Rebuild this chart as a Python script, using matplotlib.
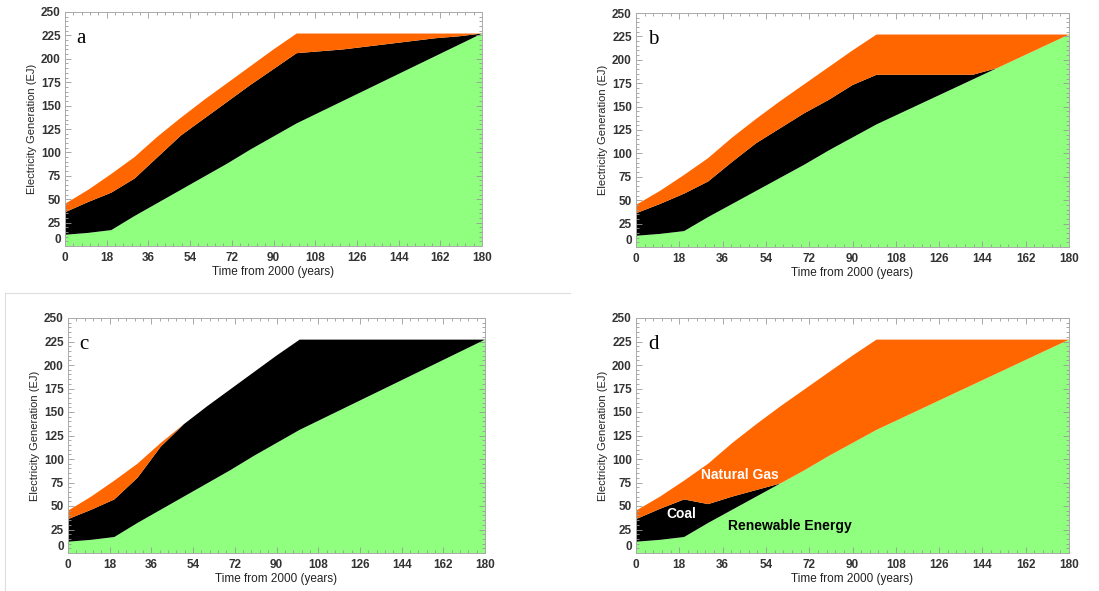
import matplotlib
matplotlib.use("Agg")
import matplotlib.pyplot as plt
from matplotlib.ticker import AutoMinorLocator
from matplotlib.lines import Line2D
import numpy as np

years = [0, 10, 20, 30, 40, 50, 60, 70, 80, 90, 100, 110, 120, 130, 140, 150, 160, 170, 180]
renewable = [12, 14, 17, 32, 46, 60, 74, 88, 103, 117, 131, 143, 155, 167, 179, 191, 203, 215, 227]

coal_a = [24, 33, 40, 40, 49, 58, 62, 66, 69, 72, 75, 65, 55, 46, 37, 28, 19, 9, 0]
gas_a = [9, 13, 20, 23, 22, 19, 20, 20, 20, 21, 21, 19, 17, 14, 11, 8, 5, 3, 0]

coal_b = [24, 32, 40, 38, 45, 51, 53, 55, 54, 56, 53, 41, 29, 17, 5, 0, 0, 0, 0]
gas_b = [9, 14, 20, 25, 26, 26, 29, 31, 35, 37, 43, 43, 43, 43, 43, 36, 24, 12, 0]

coal_c = [24, 32, 40, 48, 67, 77, 82, 86, 89, 93, 96, 84, 72, 60, 48, 36, 24, 12, 0]
gas_c = [9, 14, 20, 15, 4, 0, 0, 0, 0, 0, 0, 0, 0, 0, 0, 0, 0, 0, 0]

coal_d = [24, 33, 40, 20, 14, 7, 0, 0, 0, 0, 0, 0, 0, 0, 0, 0, 0, 0, 0]
gas_d = [9, 13, 20, 43, 57, 70, 82, 86, 89, 93, 96, 84, 72, 60, 48, 36, 24, 12, 0]

panel_letters = ["a", "b", "c", "d"]
xticks = [0, 18, 36, 54, 72, 90, 108, 126, 144, 162, 180]
yticks = [0, 25, 50, 75, 100, 125, 150, 175, 200, 225, 250]

GREEN = "#90FF80"
BLACK = "#000000"
ORANGE = "#FF6600"

plt.rcParams['font.family'] = ['Liberation Sans', 'DejaVu Sans']

fig = plt.figure(figsize=(10.99, 5.91), dpi=100)
W, H = 1099, 591
boxes = [(65, 482, 12, 246), (636, 1069, 13, 247), (68, 485, 318, 553), (636, 1069, 318, 553)]
series = [(coal_a, gas_a), (coal_b, gas_b), (coal_c, gas_c), (coal_d, gas_d)]

for (l, r, t, b), (coal, gas), letter in zip(boxes, series, panel_letters):
    ax = fig.add_axes([l / W, 1 - b / H, (r - l) / W, (b - t) / H])
    ax.stackplot(years, renewable, coal, gas, colors=[GREEN, BLACK, ORANGE],
                 linewidth=0, antialiased=True)
    ax.set_xlim(0, 180)
    ax.set_ylim(0, 250)
    ax.set_xticks(xticks)
    ax.set_yticks(yticks)
    ax.xaxis.set_minor_locator(AutoMinorLocator(5))
    ax.yaxis.set_minor_locator(AutoMinorLocator(5))
    ax.tick_params(which='both', direction='in', top=True, right=True, colors='#999999',
                   labelcolor='#333333', labelsize=8.5, width=0.6)
    ax.tick_params(which='major', length=4)
    ax.tick_params(which='minor', length=2)
    ax.tick_params(axis='x', pad=4)
    ax.tick_params(axis='y', pad=3)
    for lab in ax.get_xticklabels() + ax.get_yticklabels():
        lab.set_fontweight('bold')
    for s in ax.spines.values():
        s.set_color('#aaaaaa')
        s.set_linewidth(0.7)
    ax.get_yticklabels()[0].set_va('bottom')
    ax.set_xlabel("Time from 2000 (years)", fontsize=8.5, color='#222222', labelpad=2)
    ax.set_ylabel("Electricity Generation (EJ)", fontsize=8, color='#222222', labelpad=3)
    ax.text(5, 222, letter, fontsize=15, family=['Liberation Serif'], ha='left', va='center')
    if letter == "d":
        ax.text(43, 83, "Natural Gas", color='white', fontsize=10, fontweight='bold', ha='center', va='center')
        ax.text(19, 41, "Coal", color='white', fontsize=10, fontweight='bold', ha='center', va='center')
        ax.text(64, 29, "Renewable Energy", color='black', fontsize=10, fontweight='bold', ha='center', va='center')

fig.add_artist(Line2D([5 / W, 570 / W], [1 - 292.5 / H, 1 - 292.5 / H], color='#dddddd', lw=0.8))
fig.add_artist(Line2D([5 / W, 5 / W], [1 - 292.5 / H, 0], color='#dddddd', lw=0.8))

fig.savefig("out.png", dpi=100)
